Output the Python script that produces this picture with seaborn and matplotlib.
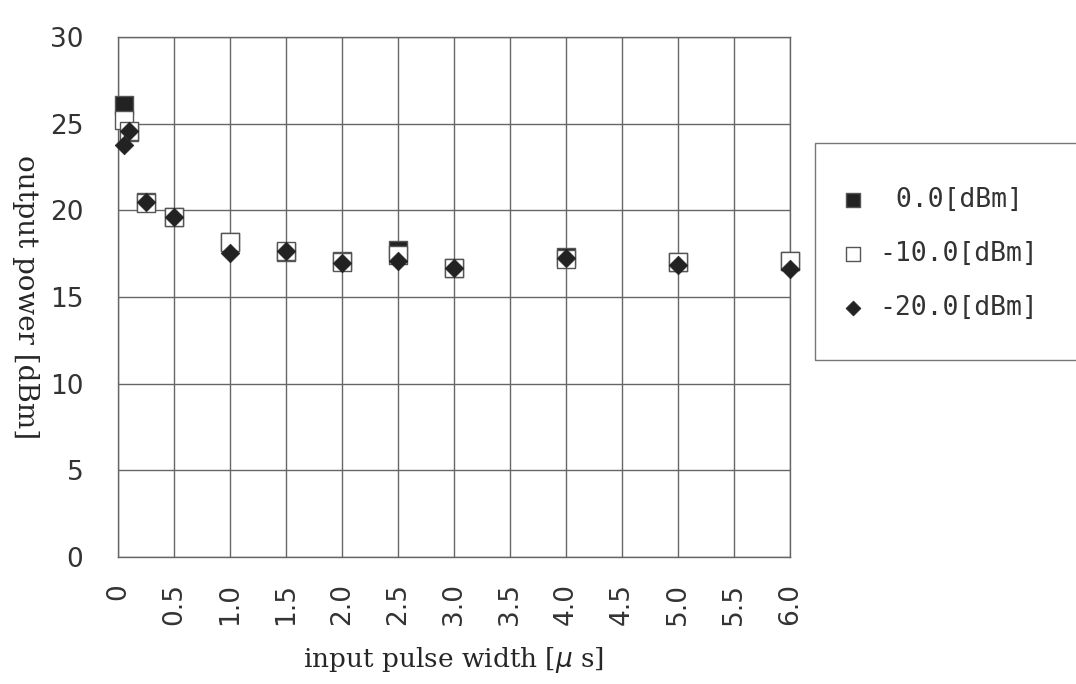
import matplotlib
matplotlib.use("Agg")
import matplotlib.pyplot as plt
from matplotlib.patches import Rectangle
import seaborn as sns
import pandas as pd

# data
pulse_width = [0.05, 0.1, 0.25, 0.5, 1.0, 1.5, 2.0, 2.5, 3.0, 4.0, 5.0, 6.0]
p_0dbm = [26.1, 24.5, 20.5, 19.6, 18.2, 17.6, 17.1, 17.7, 16.7, 17.3, 17.0, 17.1]
p_m10dbm = [25.2, 24.6, 20.4, 19.6, 18.2, 17.65, 17.0, 17.4, 16.7, 17.2, 17.0, 17.1]
p_m20dbm = [23.8, 24.6, 20.5, 19.6, 17.55, 17.65, 16.95, 17.1, 16.7, 17.25, 16.85, 16.6]
labels = [" 0.0[dBm]", "-10.0[dBm]", "-20.0[dBm]"]
xticks = [0, 0.5, 1.0, 1.5, 2.0, 2.5, 3.0, 3.5, 4.0, 4.5, 5.0, 5.5, 6.0]
xticklabels = ["0", "0.5", "1.0", "1.5", "2.0", "2.5", "3.0", "3.5", "4.0", "4.5", "5.0", "5.5", "6.0"]
yticks = [0, 5, 10, 15, 20, 25, 30]

df = pd.DataFrame({"x": pulse_width, "a": p_0dbm, "b": p_m10dbm, "c": p_m20dbm})

sns.set_style("white")
fig = plt.figure(figsize=(10.76, 6.84), dpi=100)
ax = fig.add_axes([0.1097, 0.1857, 0.6245, 0.760])

sns.scatterplot(data=df, x="x", y="a", marker="s", s=150, color="#222222",
                edgecolor="#555555", linewidth=1, ax=ax, label=labels[0], zorder=3, clip_on=False)
sns.scatterplot(data=df, x="x", y="b", marker="s", s=150, color="white",
                edgecolor="#555555", linewidth=1, ax=ax, label=labels[1], zorder=4, clip_on=False)
sns.scatterplot(data=df, x="x", y="c", marker="D", s=90, color="#222222",
                edgecolor="#222222", linewidth=0.5, ax=ax, label=labels[2], zorder=5, clip_on=False)

ax.set_xlim(0, 6.0)
ax.set_ylim(0, 30)
ax.set_xticks(xticks)
ax.set_xticklabels(xticklabels, rotation=90, family="DejaVu Sans", fontsize=19, color="#333333")
ax.set_yticks(yticks)
ax.set_yticklabels([str(v) for v in yticks], family="DejaVu Sans", fontsize=19, color="#333333")
ax.tick_params(axis="y", length=0, pad=25)
ax.tick_params(axis="x", length=0, pad=19)
ax.grid(True, color="#666666", linewidth=1)
ax.set_axisbelow(True)
for sp in ax.spines.values():
    sp.set_color("#666666")
    sp.set_linewidth(1)

ax.set_xlabel("input pulse width [$\\mu$ s]", family="DejaVu Serif", fontsize=19, labelpad=14)
ax.set_ylabel("output power [dBm]", family="DejaVu Serif", fontsize=20, rotation=270,
              va="center")
ax.yaxis.set_label_coords(-0.137, 0.5)

# legend box (frame cut off at the right edge, like the reference)
fig.patches.append(Rectangle((0.757, 0.474), 0.3, 0.317, transform=fig.transFigure,
                             fill=False, edgecolor="#777777", linewidth=1, zorder=-1))
leg = ax.legend(loc="upper left", bbox_to_anchor=(0.7816, 0.726),
                bbox_transform=fig.transFigure, frameon=False, borderaxespad=0,
                borderpad=0, labelspacing=1.06, handletextpad=0.57, handlelength=0.9,
                markerscale=0.8, prop={"family": "DejaVu Sans Mono", "size": 19})
for t in leg.get_texts():
    t.set_color("#333333")

fig.savefig("out.png", dpi=100)
